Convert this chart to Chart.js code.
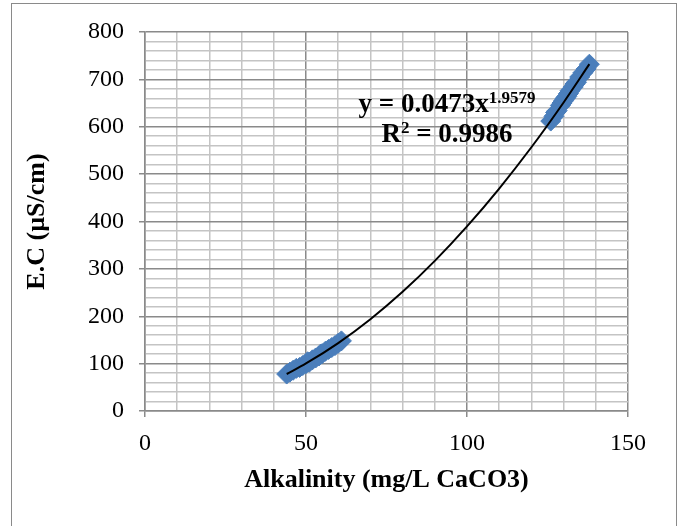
<!DOCTYPE html>
<html>
<head>
<meta charset="utf-8">
<script src="https://cdn.jsdelivr.net/npm/chart.js@4/dist/chart.umd.min.js"></script>
<style>
  html, body { margin: 0; padding: 0; background: #fff; overflow: hidden; }
  body { width: 683px; height: 526px; position: relative; }
  #frame { position: absolute; left: 11px; top: 3px; width: 666px; height: 600px; border: 1px solid #8a8a8a; box-sizing: border-box; }
  #chart { position: absolute; left: 0; top: 0; }
  #eq { position: absolute; left: 347px; top: 88px; width: 200px; text-align: center;
        font-family: 'Liberation Serif', 'Times New Roman', serif; font-weight: bold; font-size: 27px;
        line-height: 30px; color: #000; white-space: nowrap; }
  #eq sup { font-size: 17px; line-height: 0; vertical-align: 9px; }
</style>
</head>
<body>
<div id="frame"></div>
<canvas id="chart" width="683" height="526"></canvas>
<div id="eq">y = 0.0473x<sup>1.9579</sup><br>R<sup>2</sup> = 0.9986</div>
<script>
// Observed samples: Alkalinity (mg/L CaCO3) vs E.C (µS/cm)
const alkalinity = [44, 45, 46, 47, 48, 49, 50, 50.5, 51, 52, 53, 54, 54.5, 55, 56, 57, 58, 59, 60, 61,
                    126, 127, 127.5, 128, 129, 129.5, 130, 130.5, 131, 131.5, 132, 133, 133.5, 134, 135, 136, 137, 138];
const conductivity = [78, 82, 86, 90, 92, 96, 100, 104, 103, 108, 112, 116, 120, 121, 126, 130, 134, 138, 143, 148,
                      612, 622, 630, 634, 645, 650, 655, 660, 664, 670, 676, 684, 690, 694, 705, 714, 722, 732];

// Power trendline (y = 0.0473x^1.9579)
const trendX = [44, 50, 60, 70, 80, 90, 100, 110, 120, 130, 138];
const trendY = [78.1, 100.3, 143.3, 193.7, 251.5, 316.8, 389.6, 469.6, 556.7, 651.3, 732.1];

// Axis ticks
const xLabelTicks = [0, 50, 100, 150];
const yLabelTicks = [0, 100, 200, 300, 400, 500, 600, 700, 800];

const SERIF = "'Liberation Serif', 'Times New Roman', serif";
const MAJOR = '#8a8a8a';
const MINOR = '#c4c4c4';

const points = alkalinity.map((x, i) => ({ x: x, y: conductivity[i] }));
const trend = trendX.map((x, i) => ({ x: x, y: trendY[i] }));

new Chart(document.getElementById('chart'), {
  type: 'scatter',
  data: {
    datasets: [
      {
        label: 'Power trendline',
        data: trend,
        showLine: true,
        borderColor: '#000',
        borderWidth: 2,
        pointRadius: 0,
        cubicInterpolationMode: 'monotone',
        fill: false,
        order: 0
      },
      {
        label: 'E.C',
        data: points,
        pointStyle: 'rectRot',
        pointRadius: 10,
        pointHoverRadius: 10,
        backgroundColor: '#4A7EBB',
        borderColor: '#4A7EBB',
        borderWidth: 1,
        order: 1
      }
    ]
  },
  options: {
    responsive: false,
    animation: false,
    events: [],
    layout: { padding: { left: 22, top: 32, right: 55, bottom: 30 } },
    plugins: { legend: { display: false }, tooltip: { enabled: false } },
    scales: {
      x: {
        type: 'linear',
        min: 0, max: 150,
        afterFit: (s) => { s.height = 85; },
        ticks: {
          stepSize: 10,
          padding: 12,
          color: '#000',
          font: { family: SERIF, size: 24 },
          maxRotation: 0,
          autoSkip: false,
          callback: (v) => xLabelTicks.includes(v) ? String(v) : ''
        },
        grid: {
          color: (c) => (c.tick && c.tick.value % 50 === 0) ? MAJOR : MINOR,
          lineWidth: 1.5,
          tickLength: 6,
          tickColor: (c) => (c.tick && c.tick.value % 50 === 0) ? MAJOR : 'rgba(0,0,0,0)'
        },
        border: { color: MAJOR, width: 1.5 },
        title: {
          display: true,
          text: 'Alkalinity (mg/L CaCO3)',
          color: '#000',
          font: { family: SERIF, size: 26, weight: 'bold' },
          padding: 0
        }
      },
      y: {
        type: 'linear',
        min: 0, max: 800,
        afterFit: (s) => { s.width = 123; },
        ticks: {
          stepSize: 20,
          padding: 15,
          color: '#000',
          font: { family: SERIF, size: 24 },
          autoSkip: false,
          callback: (v) => yLabelTicks.includes(v) ? String(v) : ''
        },
        grid: {
          color: (c) => (c.tick && c.tick.value % 100 === 0) ? MAJOR : MINOR,
          lineWidth: 1.5,
          tickLength: 6,
          tickColor: (c) => (c.tick && c.tick.value % 100 === 0) ? MAJOR : 'rgba(0,0,0,0)'
        },
        border: { color: MAJOR, width: 1.5 },
        title: {
          display: true,
          text: 'E.C (µS/cm)',
          color: '#000',
          font: { family: SERIF, size: 26, weight: 'bold' },
          padding: 0
        }
      }
    }
  }
});
</script>
</body>
</html>
